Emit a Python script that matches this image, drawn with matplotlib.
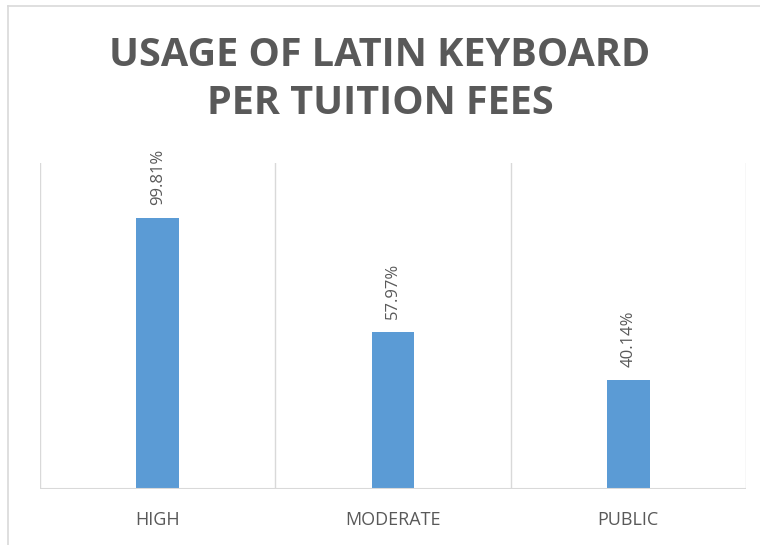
import matplotlib
matplotlib.use("Agg")
import matplotlib.pyplot as plt
from matplotlib.lines import Line2D

# chart data
categories = ["HIGH", "MODERATE", "PUBLIC"]
usage = [99.81, 57.97, 40.14]
labels = ["99.81%", "57.97%", "40.14%"]

bar_color = "#5B9BD5"
text_color = "#595959"
grid_color = "#D9D9D9"

plt.rcParams['font.family'] = ['Open Sans', 'DejaVu Sans']

fig = plt.figure(figsize=(7.6, 5.45), dpi=100)
ax = fig.add_axes([40 / 760, 56 / 545, 706 / 760, 326 / 545])

x = list(range(len(categories)))
ax.bar(x, usage, width=0.18, color=bar_color, zorder=3)

# data labels, rotated like the original
for xi, v, lab in zip(x, usage, labels):
    ax.annotate(lab, (xi, v), xytext=(0, 9), textcoords="offset points",
                rotation=90, ha="center", va="bottom",
                fontsize=12, color=text_color)

ax.set_xlim(-0.5, len(categories) - 0.5)
ax.set_ylim(0, 120)

# vertical separators between categories
for b in [i - 0.5 for i in range(len(categories) + 1)]:
    ax.axvline(b, color=grid_color, lw=1, zorder=1)
ax.axhline(0, color=grid_color, lw=1.5, zorder=4)

for s in ax.spines.values():
    s.set_visible(False)
ax.set_yticks([])
ax.set_xticks(x)
ax.set_xticklabels(categories, fontsize=13, color=text_color)
ax.tick_params(axis="x", length=0, pad=16)

fig.text(0.5, 1 - 80 / 545, "USAGE OF LATIN KEYBOARD\nPER TUITION FEES",
         ha="center", va="center", fontsize=28.5, fontweight="bold",
         color=text_color, linespacing=1.3)

# chart border (only top and left edges visible in the crop)
fig.add_artist(Line2D([8 / 760, 1], [1 - 6 / 545, 1 - 6 / 545],
                      transform=fig.transFigure, color=grid_color, lw=1.2))
fig.add_artist(Line2D([8 / 760, 8 / 760], [0, 1 - 6 / 545],
                      transform=fig.transFigure, color=grid_color, lw=1.2))

fig.savefig("out.png", dpi=100, facecolor="white")
